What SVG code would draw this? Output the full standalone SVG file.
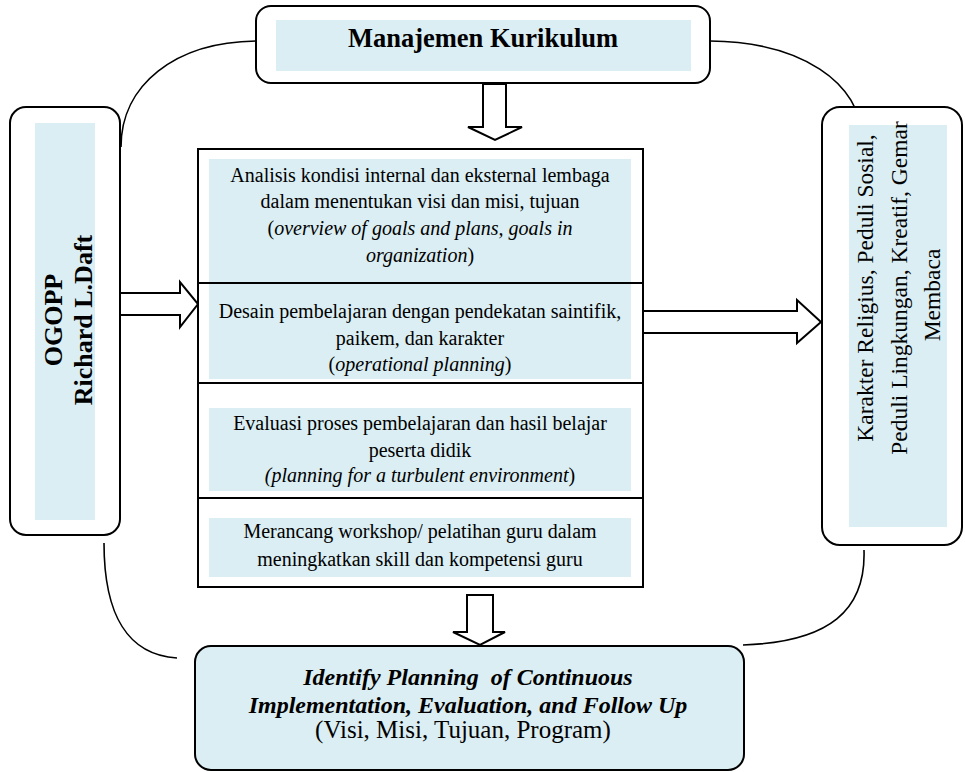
<svg xmlns="http://www.w3.org/2000/svg" width="965" height="772" viewBox="0 0 965 772">
<style>
text{font-family:"Liberation Serif","Times New Roman",serif;fill:#000}
.c{font-size:20px;text-anchor:middle}
.box{fill:#fff;stroke:#000;stroke-width:2}
.fill{fill:#DAEEF3}
.line{fill:none;stroke:#000;stroke-width:1.6}
.arrow{fill:#fff;stroke:#000;stroke-width:2;stroke-linejoin:miter}
.i{font-style:italic}
</style>
<rect width="965" height="772" fill="#fff"/>
<g id="connectors">
<path class="line" d="M256,41 C175,42 121,85 121,147"/>
<path class="line" d="M710,41 C800,42 862,82 862,140"/>
<path class="line" d="M104,543 C104,615 128,655 177,658"/>
<path class="line" d="M864,550 C866,610 830,642 743,645"/>
<path class="arrow" d="M483,84 L506,84 L506,127 L522,127 L495,140 L468,127 L483,127 Z"/>
<path class="arrow" d="M120,293 L180,293 L180,282 L198,304 L180,327 L180,315 L120,315 Z"/>
<path class="arrow" d="M643,311 L797,311 L797,300 L821,322 L797,343 L797,333 L643,333 Z"/>
<path class="arrow" d="M467,595 L493,595 L493,632 L505,632 L480,645 L453,632 L467,632 Z"/>
</g>
<g id="manajemen">
<rect class="box" x="256" y="6" width="454" height="77" rx="15"/>
<rect class="fill" x="276" y="20" width="415" height="51"/>
<text x="483" y="47" style="font-size:26.5px;font-weight:bold;text-anchor:middle">Manajemen Kurikulum</text>
</g>
<g id="ogopp">
<rect class="box" x="10" y="107" width="110" height="428" rx="16"/>
<rect class="fill" x="35" y="123" width="60" height="397"/>
<text transform="translate(62,320) rotate(-90)" style="font-size:26px;font-weight:bold;text-anchor:middle">OGOPP</text>
<text transform="translate(92,320) rotate(-90)" style="font-size:26px;font-weight:bold;text-anchor:middle">Richard L.Daft</text>
</g>
<g id="karakter">
<rect class="box" x="822" y="107" width="140" height="438" rx="18"/>
<rect class="fill" x="849" y="125" width="98" height="402"/>
<text transform="translate(873,288) rotate(-90)" style="font-size:23.5px;text-anchor:middle">Karakter Religius, Peduli Sosial,</text>
<text transform="translate(907,288) rotate(-90)" style="font-size:23.5px;text-anchor:middle">Peduli Lingkungan, Kreatif, Gemar</text>
<text transform="translate(940,295) rotate(-90)" style="font-size:23.5px;text-anchor:middle">Membaca</text>
</g>
<g id="center">
<rect class="box" x="198" y="149" width="445" height="438"/>
<rect class="fill" x="209" y="159" width="422" height="124"/>
<rect class="fill" x="209" y="284" width="422" height="95"/>
<rect class="fill" x="209" y="408" width="422" height="83"/>
<rect class="fill" x="209" y="518" width="422" height="59"/>
<line x1="198" y1="283" x2="643" y2="283" stroke="#000" stroke-width="2"/>
<line x1="198" y1="383" x2="643" y2="383" stroke="#000" stroke-width="2"/>
<line x1="198" y1="498" x2="643" y2="498" stroke="#000" stroke-width="2"/>
</g>
<g id="analisis">
<text class="c" x="420" y="182">Analisis kondisi internal dan eksternal lembaga</text>
<text class="c" x="420" y="208">dalam menentukan visi dan misi, tujuan</text>
<text class="c" x="420" y="235">(<tspan class="i">overview of goals and plans, goals in</tspan></text>
<text class="c" x="420" y="262"><tspan class="i">organization</tspan>)</text>
</g>
<g id="desain">
<text class="c" x="420" y="318">Desain pembelajaran dengan pendekatan saintifik,</text>
<text class="c" x="420" y="345">paikem, dan karakter</text>
<text class="c" x="420" y="371">(<tspan class="i">operational planning</tspan>)</text>
</g>
<g id="evaluasi">
<text class="c" x="420" y="430">Evaluasi proses pembelajaran dan hasil belajar</text>
<text class="c" x="420" y="457">peserta didik</text>
<text class="c" x="420" y="482"><tspan class="i">(planning for a turbulent environment</tspan>)</text>
</g>
<g id="merancang">
<text class="c" x="420" y="538">Merancang workshop/ pelatihan guru dalam</text>
<text class="c" x="420" y="566">meningkatkan skill dan kompetensi guru</text>
</g>
<g id="identify">
<rect x="195" y="646" width="549" height="124" rx="16" fill="#DAEEF3" stroke="#000" stroke-width="2"/>
<text x="468" y="685" style="font-size:24px;font-weight:bold;font-style:italic;text-anchor:middle;white-space:pre">Identify Planning  of Continuous</text>
<text x="468" y="713" style="font-size:24px;font-weight:bold;font-style:italic;text-anchor:middle">Implementation, Evaluation, and Follow Up</text>
<text x="463" y="738" style="font-size:25px;text-anchor:middle">(Visi, Misi, Tujuan, Program)</text>
</g>
</svg>
